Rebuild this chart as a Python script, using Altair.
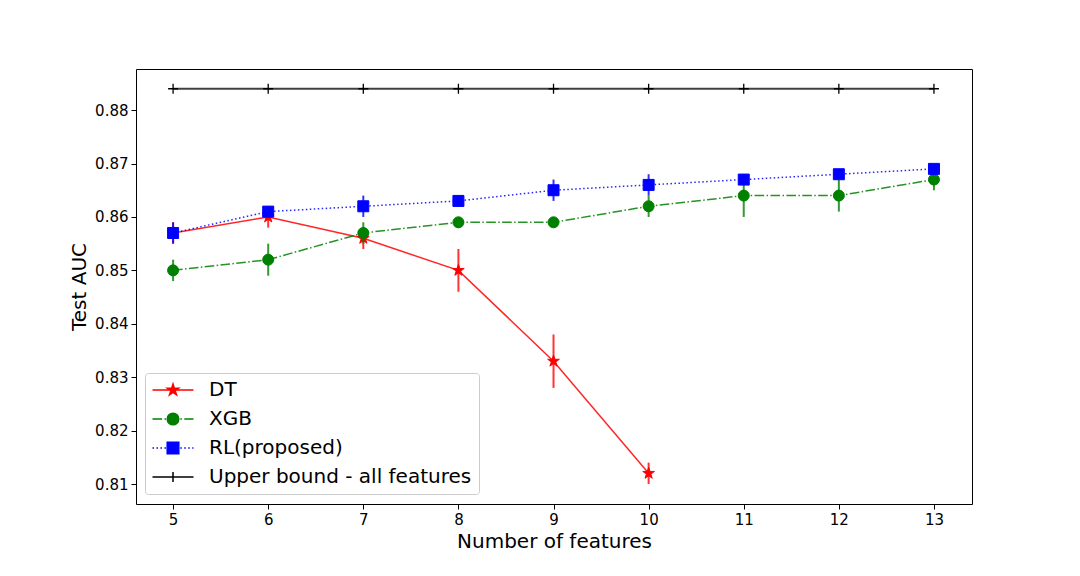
import math
import altair as alt
import pandas as pd

# ---------------- data ----------------
features = [5, 6, 7, 8, 9, 10, 11, 12, 13]
dt_features = [5, 6, 7, 8, 9, 10]
dt_auc = [0.857, 0.860, 0.856, 0.850, 0.833, 0.812]
dt_err = [0.002, 0.002, 0.002, 0.004, 0.005, 0.002]
xgb_auc = [0.850, 0.852, 0.857, 0.859, 0.859, 0.862, 0.864, 0.864, 0.867]
xgb_err = [0.002, 0.003, 0.002, 0.001, 0.0005, 0.002, 0.004, 0.003, 0.002]
rl_auc = [0.857, 0.861, 0.862, 0.863, 0.865, 0.866, 0.867, 0.868, 0.869]
rl_err = [0.002, 0.001, 0.002, 0.0005, 0.002, 0.002, 0.001, 0.0005, 0.0005]
upper_auc = [0.884] * 9

series_names = ["DT", "XGB", "RL(proposed)", "Upper bound - all features"]
x_ticks = [5, 6, 7, 8, 9, 10, 11, 12, 13]
y_ticks = [0.81, 0.82, 0.83, 0.84, 0.85, 0.86, 0.87, 0.88]

FONT = "DejaVu Sans"


def frame(name, xs, ys, errs):
    return pd.DataFrame({
        "series": name,
        "features": xs,
        "auc": ys,
        "lo": [y - e for y, e in zip(ys, errs)],
        "hi": [y + e for y, e in zip(ys, errs)],
    })


df_dt = frame("DT", dt_features, dt_auc, dt_err)
df_xgb = frame("XGB", features, xgb_auc, xgb_err)
df_rl = frame("RL(proposed)", features, rl_auc, rl_err)
df_up = frame("Upper bound - all features", features, upper_auc, [0] * 9)
df_all = pd.concat([df_dt, df_xgb, df_rl, df_up], ignore_index=True)

xscale = alt.Scale(domain=[4.61, 13.4], nice=False, zero=False)
yscale = alt.Scale(domain=[0.80626, 0.8877], nice=False, zero=False)

X = alt.X("features:Q", scale=xscale,
          axis=alt.Axis(values=x_ticks, title="Number of features", format="d"))
Y = alt.Y("auc:Q", scale=yscale,
          axis=alt.Axis(values=y_ticks, title="Test AUC", format=".2f"))


# ---------------- marker paths ----------------
def star_path(R, inner=0.382):
    pts = []
    for k in range(10):
        r = R if k % 2 == 0 else R * inner
        a = math.radians(-90 + 36 * k)
        pts.append((r * math.cos(a), r * math.sin(a)))
    return "M" + "L".join(f"{px:.3f},{py:.3f}" for px, py in pts) + "Z"


def circle_path(r):
    return (f"M{r},0A{r},{r} 0 1,1 {-r},0A{r},{r} 0 1,1 {r},0Z")


def square_path(h):
    return f"M{-h},{-h}H{h}V{h}H{-h}Z"


def plus_path(h):
    return f"M{-h},0H{h}M0,{-h}V{h}"


def dash_path(pattern, half, unit):
    # pattern in px, converted to symbol units
    if not pattern:
        return f"M{-half},0H{half}"
    segs = []
    x = -half
    i = 0
    while x < half:
        length = pattern[i % len(pattern)] / unit
        end = min(x + length, half)
        if i % 2 == 0:
            segs.append(f"M{x:.3f},0H{end:.3f}")
        x = end
        i += 1
    return "".join(segs)


# legend symbol: size 256 -> 8 px per unit
LU = 8.0
LHALF = 20.5 / LU
legend_shapes = [
    dash_path([], LHALF, LU) + star_path(6.0 / LU),
    dash_path([9.6, 2.4, 1.5, 2.4], LHALF, LU) + circle_path(5.8 / LU),
    dash_path([1.5, 2.475], LHALF, LU) + square_path(5.8 / LU),
    dash_path([], LHALF, LU) + plus_path(5.0 / LU),
]
colors = ["#ff0000", "#008000", "#0000ff", "#000000"]


def series_layers(df, color, dash, marker_shape, marker_size, filled, err=True,
                  line_width=1.5, line_opacity=0.85):
    base = alt.Chart(df)
    layers = []
    if err:
        layers.append(base.mark_rule(color=color, strokeWidth=2, opacity=0.8).encode(
            x=X, y=alt.Y("lo:Q", scale=yscale), y2="hi:Q"))
    line_kw = dict(color=color, strokeWidth=line_width, opacity=line_opacity)
    if dash:
        line_kw["strokeDash"] = dash
    layers.append(base.mark_line(**line_kw).encode(x=X, y=Y))
    if filled:
        pt = base.mark_point(shape=marker_shape, size=marker_size, filled=True,
                             fill=color, stroke=color, strokeWidth=1, opacity=1)
    else:
        pt = base.mark_point(shape=marker_shape, size=marker_size, filled=False,
                             stroke=color, strokeWidth=1.3, opacity=1)
    layers.append(pt.encode(x=X, y=Y))
    return layers


layers = []
layers += series_layers(df_dt, "#ff0000", None, star_path(1.0), 150, True)
layers += series_layers(df_xgb, "#008000", [9.6, 2.4, 1.5, 2.4], "circle", 121, True)
layers += series_layers(df_rl, "#0000ff", [1.5, 2.475], "square", 121, True)
layers += series_layers(df_up, "#000000", None, plus_path(1.0), 100, False, err=False,
                        line_width=2, line_opacity=0.75)

# legend-only layer (no visible marks)
leg = alt.Legend(title=None)
legend_layer = alt.Chart(df_all).mark_point(size=256, filled=True, strokeWidth=1.5, opacity=1).encode(
    x=X, y=Y,
    fill=alt.Fill("series:N", scale=alt.Scale(domain=series_names, range=colors), legend=leg),
    stroke=alt.Stroke("series:N", scale=alt.Scale(domain=series_names, range=colors), legend=leg),
    shape=alt.Shape("series:N", scale=alt.Scale(domain=series_names, range=legend_shapes), legend=leg),
).transform_filter("false")

chart = alt.layer(*layers, legend_layer).properties(
    width=836, height=435,
    autosize=alt.AutoSizeParams(type="none"),
    padding={"left": 128, "top": 61, "right": 100, "bottom": 64},
).configure_view(
    stroke="black", strokeWidth=1
).configure_axis(
    domain=False, grid=False,
    tickColor="black", tickSize=5, tickWidth=1,
    labelFont=FONT, labelFontSize=15, labelColor="black",
    titleFont=FONT, titleFontSize=20, titleColor="black", titleFontWeight="normal",
).configure_axisX(
    labelPadding=3, titlePadding=4,
).configure_axisY(
    labelPadding=3, titlePadding=5,
).configure_legend(
    orient="none", legendX=9, legendY=304,
    padding=7, rowPadding=9,
    labelFont=FONT, labelFontSize=20, labelColor="black", labelLimit=400,
    symbolSize=256, symbolStrokeWidth=1.5, symbolOffset=11, labelOffset=26,
    strokeColor="#cccccc", fillColor="white", cornerRadius=3,
)

chart.save("out.html", embed_options={"renderer": "svg", "actions": False})
